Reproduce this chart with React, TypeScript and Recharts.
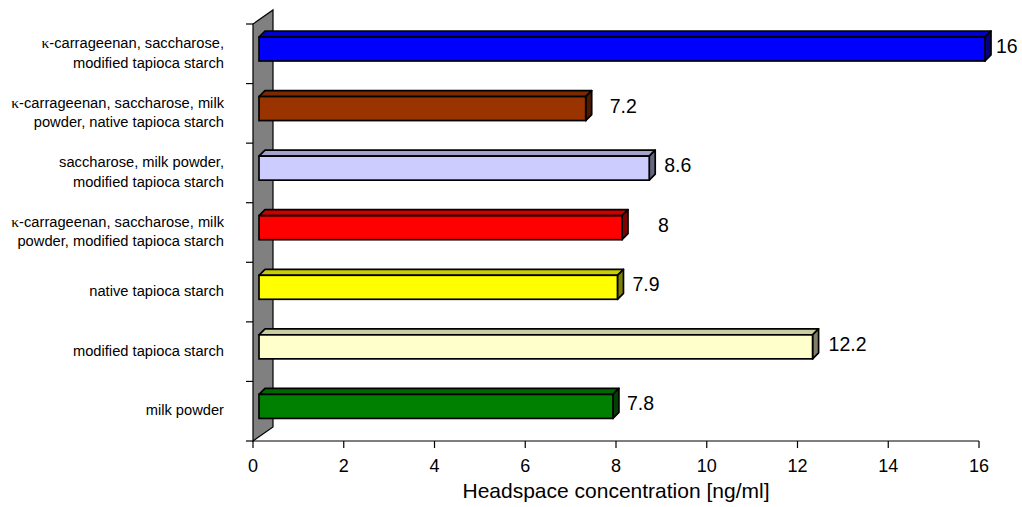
import React from 'react';
import { BarChart, Bar, XAxis, YAxis, LabelList } from 'recharts';

// Sample compositions (top to bottom) and measured headspace concentrations
const categories = [
  'κ-carrageenan, saccharose,\nmodified tapioca starch',
  'κ-carrageenan, saccharose, milk\npowder, native tapioca starch',
  'saccharose, milk powder,\nmodified tapioca starch',
  'κ-carrageenan, saccharose, milk\npowder, modified tapioca starch',
  'native tapioca starch',
  'modified tapioca starch',
  'milk powder',
];
const concentrations = [16, 7.2, 8.6, 8, 7.9, 12.2, 7.8];
const xTicks = [0, 2, 4, 6, 8, 10, 12, 14, 16];
const axisTitle = 'Headspace concentration [ng/ml]';

// Styling
const faceColors = ['#0000FF', '#993300', '#CCCCFF', '#FF0000', '#FFFF00', '#FFFFCC', '#008000'];
const labelGaps = [5, 18, 9, 30, 9, 10, 8];

const FONT = '"Liberation Sans", Arial, Helvetica, sans-serif';
const SERIF = '"Liberation Serif", "Times New Roman", serif';

const W = 1022;
const H = 507;
const PLOT_LEFT = 253;
const PLOT_TOP = 24;
const PLOT_RIGHT_MARGIN = 43;
const X_AXIS_H = 60;
const BOTTOM_MARGIN = 6;
const PLOT_BOTTOM = H - BOTTOM_MARGIN - X_AXIS_H;
const PLOT_H = PLOT_BOTTOM - PLOT_TOP;

// 3D projection offsets
const WALL_DX = 20;
const WALL_DY = -14;
const FRONT_DX = 6;
const FRONT_DY = -5;
const DEPTH_DX = 6;
const DEPTH_DY = -6;
const BAR_H = 24;
const EDGE_W = 1.7;

const data = categories.map((name, i) => ({ name, value: concentrations[i] }));

function shade(hex: string, f: number): string {
  const n = parseInt(hex.slice(1), 16);
  const r = Math.round(((n >> 16) & 255) * f);
  const g = Math.round(((n >> 8) & 255) * f);
  const b = Math.round((n & 255) * f);
  return `rgb(${r},${g},${b})`;
}

function Wall() {
  const x0 = PLOT_LEFT;
  const pts = [
    [x0, PLOT_BOTTOM],
    [x0, PLOT_TOP],
    [x0 + WALL_DX, PLOT_TOP + WALL_DY],
    [x0 + WALL_DX, PLOT_BOTTOM + WALL_DY],
  ]
    .map((p) => p.join(','))
    .join(' ');
  return <polygon points={pts} fill="#808080" stroke="#000" strokeWidth={1.2} strokeLinejoin="miter" />;
}

function Bar3D(props: any) {
  const { x, y, width, index } = props;
  const color = faceColors[index % faceColors.length];
  const fx = x + FRONT_DX;
  const fy = y + FRONT_DY;
  const w = Math.max(width, 0);
  const top = [
    [fx, fy],
    [fx + DEPTH_DX, fy + DEPTH_DY],
    [fx + w + DEPTH_DX, fy + DEPTH_DY],
    [fx + w, fy],
  ]
    .map((p) => p.join(','))
    .join(' ');
  const side = [
    [fx + w, fy],
    [fx + w + DEPTH_DX, fy + DEPTH_DY],
    [fx + w + DEPTH_DX, fy + BAR_H + DEPTH_DY],
    [fx + w, fy + BAR_H],
  ]
    .map((p) => p.join(','))
    .join(' ');
  return (
    <g>
      {index === 0 && <Wall />}
      <polygon points={top} fill={shade(color, 0.8)} stroke="#000" strokeWidth={EDGE_W} strokeLinejoin="round" />
      <polygon points={side} fill={shade(color, 0.5)} stroke="#000" strokeWidth={EDGE_W} strokeLinejoin="round" />
      <rect x={fx} y={fy} width={w} height={BAR_H} fill={color} stroke="#000" strokeWidth={EDGE_W} />
    </g>
  );
}

function ValueLabel(props: any) {
  const { x, y, width, value, index } = props;
  const lx = x + width + FRONT_DX + DEPTH_DX + labelGaps[index];
  const cy = y + FRONT_DY + (BAR_H + DEPTH_DY) / 2;
  return (
    <text x={lx} y={cy + 7} fontFamily={FONT} fontSize={19.5} fill="#000">
      {value}
    </text>
  );
}

function renderLine(line: string, key: number, x: number, dy: number) {
  const parts = line.split(/(κ)/).filter((p) => p.length > 0);
  return (
    <tspan key={key} x={x} dy={dy}>
      {parts.map((p, j) =>
        p === 'κ' ? (
          <tspan key={j} fontFamily={SERIF} fontSize={15.5}>
            {p}
          </tspan>
        ) : (
          <tspan key={j}>{p}</tspan>
        )
      )}
    </tspan>
  );
}

function CategoryTick(props: any) {
  const { y, payload, index } = props;
  const band = PLOT_H / categories.length;
  const lines = String(payload.value).split('\n');
  const lineH = 19.5;
  const tx = PLOT_LEFT - 29;
  const firstBase = y - ((lines.length - 1) * lineH) / 2 + 4;
  return (
    <g>
      <line x1={PLOT_LEFT - 7} x2={PLOT_LEFT} y1={y - band / 2} y2={y - band / 2} stroke="#000" strokeWidth={1.2} />
      {index === categories.length - 1 && (
        <line x1={PLOT_LEFT - 7} x2={PLOT_LEFT} y1={y + band / 2} y2={y + band / 2} stroke="#000" strokeWidth={1.2} />
      )}
      <text x={tx} y={firstBase} textAnchor="end" fontFamily={FONT} fontSize={14.7} fill="#000">
        {lines.map((l, i) => renderLine(l, i, tx, i === 0 ? 0 : lineH))}
      </text>
    </g>
  );
}

function ValueTick(props: any) {
  const { x, payload } = props;
  return (
    <text x={x} y={PLOT_BOTTOM + 31} textAnchor="middle" fontFamily={FONT} fontSize={18} fill="#000">
      {payload.value}
    </text>
  );
}

function AxisTitle(props: any) {
  const vb = props.viewBox || {};
  return (
    <text
      x={vb.x + vb.width / 2}
      y={PLOT_BOTTOM + 57}
      textAnchor="middle"
      fontFamily={FONT}
      fontSize={21}
      fill="#000"
    >
      {axisTitle}
    </text>
  );
}

export default function App() {
  return (
    <div style={{ position: 'absolute', left: 0, top: 0, width: W, height: H, background: '#fff' }}>
      <BarChart
        width={W}
        height={H}
        data={data}
        layout="vertical"
        margin={{ top: PLOT_TOP, right: PLOT_RIGHT_MARGIN, bottom: BOTTOM_MARGIN, left: 0 }}
        barCategoryGap={0}
      >
        <XAxis
          type="number"
          domain={[0, 16]}
          ticks={xTicks}
          interval={0}
          height={X_AXIS_H}
          tickSize={7}
          axisLine={{ stroke: '#000', strokeWidth: 1.2 }}
          tickLine={{ stroke: '#000', strokeWidth: 1.2 }}
          tick={<ValueTick />}
          label={{ value: axisTitle, content: <AxisTitle /> }}
        />
        <YAxis
          type="category"
          dataKey="name"
          width={PLOT_LEFT}
          axisLine={false}
          tickLine={false}
          interval={0}
          tick={<CategoryTick />}
        />
        <Bar dataKey="value" barSize={BAR_H} isAnimationActive={false} shape={<Bar3D />}>
          <LabelList dataKey="value" content={<ValueLabel />} />
        </Bar>
      </BarChart>
    </div>
  );
}
